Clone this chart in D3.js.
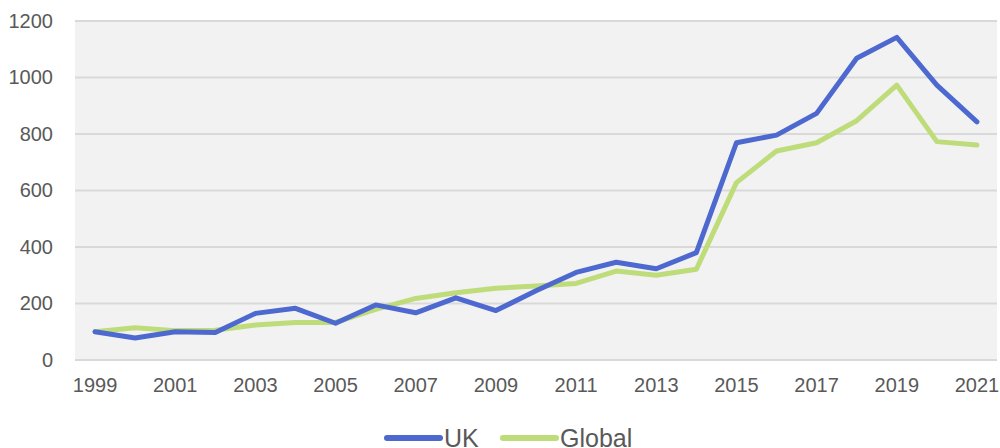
<!DOCTYPE html>
<html>
<head>
<meta charset="utf-8">
<script src="https://cdn.jsdelivr.net/npm/d3@7"></script>
<style>
  html, body { margin: 0; padding: 0; background: #fff; }
  svg { display: block; font-family: "Liberation Sans", Arial, Helvetica, sans-serif; }
</style>
</head>
<body>
<svg id="chart" width="1000" height="448"></svg>
<script>
// Index values by year (1999 = 100)
const years = ["1999","2000","2001","2002","2003","2004","2005","2006","2007","2008","2009","2010",
               "2011","2012","2013","2014","2015","2016","2017","2018","2019","2020","2021"];
const ukValues = [100, 78, 100, 97, 165, 183, 130, 195, 167, 220, 175, 245,
                  310, 346, 323, 380, 769, 796, 873, 1068, 1142, 973, 843];
const globalValues = [100, 114, 104, 105, 124, 133, 133, 179, 218, 238, 254, 262,
                      271, 315, 300, 321, 628, 740, 769, 847, 973, 773, 761];
const yTicks = [0, 200, 400, 600, 800, 1000, 1200];
const xTickLabels = years.filter((d, i) => i % 2 === 0);
const seriesNames = ["UK", "Global"];

const colors = { UK: "#4D69CF", Global: "#BEDC7A" };
const series = [
  { name: seriesNames[0], values: ukValues },
  { name: seriesNames[1], values: globalValues }
];

const svg = d3.select("#chart");
const plot = { left: 75, right: 997, top: 21, bottom: 360 };

const x = d3.scaleBand().domain(years).range([plot.left, plot.right]);
const y = d3.scaleLinear().domain([0, 1200]).range([plot.bottom, plot.top]);

// plot background
svg.append("rect")
  .attr("x", plot.left).attr("y", plot.top)
  .attr("width", plot.right - plot.left).attr("height", plot.bottom - plot.top)
  .attr("fill", "#F2F2F2");

// horizontal gridlines
svg.append("g").selectAll("line").data(yTicks).join("line")
  .attr("x1", plot.left).attr("x2", plot.right)
  .attr("y1", d => y(d)).attr("y2", d => y(d))
  .attr("stroke", "#D9D9D9").attr("stroke-width", 2);

// y axis labels
const yAxis = svg.append("g")
  .attr("transform", `translate(${plot.left - 22},0)`)
  .call(d3.axisLeft(y).tickValues(yTicks).tickSize(0).tickPadding(0).tickFormat(d3.format("d")));
yAxis.select(".domain").remove();
yAxis.selectAll("text")
  .attr("fill", "#595959").attr("font-size", 20)
  .style("font-family", "'Liberation Sans', Arial, sans-serif");

// x axis labels
const xAxis = svg.append("g")
  .attr("transform", `translate(0,${plot.bottom + 18})`)
  .call(d3.axisBottom(x).tickValues(xTickLabels).tickSize(0).tickPadding(0));
xAxis.select(".domain").remove();
xAxis.selectAll("text")
  .attr("fill", "#595959").attr("font-size", 20)
  .style("font-family", "'Liberation Sans', Arial, sans-serif");

// series lines
const line = d3.line()
  .x((d, i) => x(years[i]) + x.bandwidth() / 2)
  .y(d => y(d));

svg.append("g").selectAll("path").data(series.slice().reverse()).join("path")
  .attr("d", d => line(d.values))
  .attr("fill", "none")
  .attr("stroke", d => colors[d.name])
  .attr("stroke-width", 5)
  .attr("stroke-linejoin", "round")
  .attr("stroke-linecap", "round");

// legend
const legend = svg.append("g").attr("transform", "translate(0,438)");
const legendItems = [
  { name: seriesNames[0], x0: 387 },
  { name: seriesNames[1], x0: 503 }
];
const item = legend.selectAll("g").data(legendItems).join("g")
  .attr("transform", d => `translate(${d.x0},0)`);
item.append("line")
  .attr("x1", 0).attr("x2", 53).attr("y1", 0).attr("y2", 0)
  .attr("stroke", d => colors[d.name]).attr("stroke-width", 6)
  .attr("stroke-linecap", "round");
item.append("text")
  .attr("x", 57).attr("y", 9)
  .attr("fill", "#595959").attr("font-size", 25)
  .text(d => d.name);
</script>
</body>
</html>
